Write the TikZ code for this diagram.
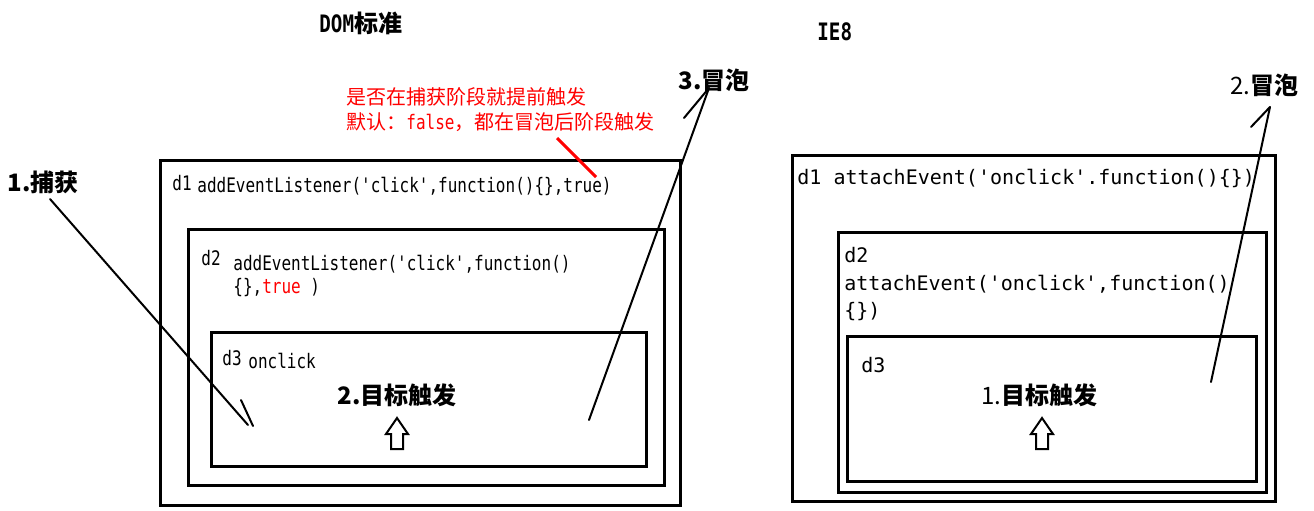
\documentclass[tikz,border=0pt]{standalone}
\usepackage{fontspec}
\setmainfont{Noto Sans CJK SC}
\newfontfamily\codefont[FakeStretch=0.8]{DejaVu Sans Mono}
\newfontfamily\iecodefont{DejaVu Sans Mono}
\usetikzlibrary{positioning}
\tikzstyle{box} = [line width=1.5pt]
\tikzstyle{flow} = [line width=1pt,line cap=round]
\tikzstyle{hollow} = [line width=1pt,line join=miter,fill=white]

\begin{document}
\begin{tikzpicture}[
    x=0.5pt, y=-0.5pt,
    every node/.style={inner sep=0pt,anchor=west},
    code/.style={font=\codefont\fontsize{10pt}{12pt}\selectfont},
    iecode/.style={font=\iecodefont\fontsize{10pt}{12pt}\selectfont},
    phase/.style={font=\bfseries\fontsize{12pt}{14pt}\selectfont},
    note/.style={font=\fontsize{10pt}{12pt}\selectfont,text=red}
]
\useasboundingbox (0,0) rectangle (1314,510);
% DOM标准
\node[phase] (dom) at (319,23) {{\codefont DOM}标准};
\node[note] (note1) at (346,97) {是否在捕获阶段就提前触发};
\node[note] (note2) at (346,122) {默认：{\codefont false}，都在冒泡后阶段触发};
\draw[box] (160,160) rectangle (680,505);
\draw[box] (188,229) rectangle (664,485);
\draw[box] (211,332) rectangle (646,466);
\node[code] (d1) at (172,183) {d1};
\node[code] (d1code) at (197,186) {addEventListener('click',function()\{\},true)};
\node[code] (d2) at (201,258) {d2};
\node[code] (d2code) at (233,264) {addEventListener('click',function()};
\node[code] (d2code2) at (233,288) {\{\},\textcolor{red}{true} )};
\node[code] (d3) at (222,358) {d3};
\node[code] (d3code) at (248,361) {onclick};
\node[phase] (cap) at (7,182) {1.捕获};
\node[phase] (target) at (337,395) {2.目标触发};
\node[phase] (bubble) at (678,80) {3.冒泡};
\coordinate (capin) at (50,199);
\coordinate (capout) at (248,425);
\coordinate (bubin) at (589,420);
\coordinate (bubout) at (709,88);
\coordinate (tru) at (596,177);
\draw[flow] (capin) -- (capout);
\draw[flow] (241,400) -- (253,426);
\draw[flow] (bubin) -- (bubout);
\draw[flow] (684,118) -- (bubout);
\draw[red,line width=1.5pt] (557,138) -- (tru);
% IE8
\node[phase] (ie) at (817,32) {\codefont IE8};
\draw[box] (792,155) rectangle (1275,501);
\draw[box] (838,232) rectangle (1266,492);
\draw[box] (847,336) rectangle (1256,481);
\node[iecode] (ied1) at (797,178) {d1 attachEvent('onclick'.function()\{\})};
\node[iecode] (ied2) at (844,255) {d2};
\node[iecode] (ied2code) at (844,284) {attachEvent('onclick',function()};
\node[iecode] (ied2code2) at (844,312) {\{\})};
\node[iecode] (ied3) at (861,365) {d3};
\node[phase] (ietarget) at (981,395) {\mdseries 1.\bfseries 目标触发};
\node[phase] (iebubble) at (1230,85) {\mdseries 2.\bfseries 冒泡};
\coordinate (iebubin) at (1211,382);
\coordinate (iebubout) at (1270,107);
\draw[flow] (iebubin) -- (iebubout);
\draw[flow] (1251,127) -- (iebubout);
% 空心箭头
\foreach \ax in {397,1042}
    \draw[hollow] (\ax,418) -- (\ax+11,434) -- (\ax+6,434) -- (\ax+6,449)
        -- (\ax-6,449) -- (\ax-6,434) -- (\ax-11,434) -- cycle;
\end{tikzpicture}
\end{document}
